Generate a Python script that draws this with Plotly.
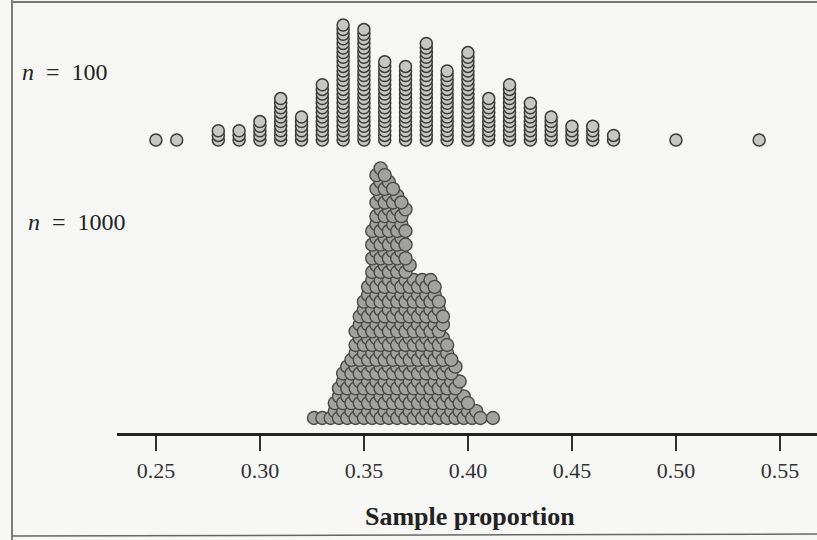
import plotly.graph_objects as go

# ---------------- data ----------------
# n = 100 : sample proportions (multiples of 0.01) and how many samples gave each
top_props = [0.25, 0.26, 0.28, 0.29, 0.30, 0.31, 0.32, 0.33, 0.34, 0.35, 0.36, 0.37,
             0.38, 0.39, 0.40, 0.41, 0.42, 0.43, 0.44, 0.45, 0.46, 0.47, 0.50, 0.54]
top_counts = [1, 1, 3, 3, 5, 10, 6, 13, 26, 25, 18, 17,
              22, 16, 20, 10, 13, 9, 6, 4, 4, 2, 1, 1]

# n = 1000 : sample proportions (grouped to 0.002) and counts
bot_props = [0.326, 0.330, 0.334, 0.336, 0.338, 0.340, 0.342, 0.344, 0.346, 0.348,
             0.350, 0.352, 0.354, 0.356, 0.358, 0.360, 0.362, 0.364, 0.366, 0.368,
             0.370, 0.372, 0.374, 0.376, 0.378, 0.380, 0.382, 0.384, 0.386, 0.388,
             0.390, 0.392, 0.394, 0.396, 0.398, 0.400, 0.402, 0.404, 0.406, 0.412]
bot_counts = [1, 1, 1, 2, 3, 4, 4, 5, 7, 8,
              9, 10, 14, 18, 18, 18, 17, 17, 16, 16,
              15, 11, 10, 10, 10, 10, 10, 10, 9, 8,
              6, 5, 4, 3, 2, 2, 1, 1, 1, 1]

tick_vals = [0.25, 0.30, 0.35, 0.40, 0.45, 0.50, 0.55]
tick_text = ["0.25", "0.30", "0.35", "0.40", "0.45", "0.50", "0.55"]
labels = ["<i>n</i>\u2002=\u2002100", "<i>n</i>\u2002=\u20021000"]
x_title = "Sample proportion"

# ---------------- layout constants ----------------
W, H = 817, 540
ML, MR, MT, MB = 117, 0, 10, 107
PW, PH = W - ML - MR, H - MT - MB
X0, X1 = 0.2313, 0.5678
PX_PER_X = PW / (X1 - X0)          # pixels per unit of x
Y_RANGE = [0, PH]                   # y axis in pixel units

TOP_BASE, TOP_STEP = 293, 4.6       # stacked dotplot for n = 100
BOT_BASE, BOT_GAP = 15, 8.0         # swarm for n = 1000

def px_x(px):
    return (px - ML) / PW

def px_y(py):
    return (H - MB - py) / PH

# stacked columns (n = 100)
tx, ty = [], []
for p, c in zip(top_props, top_counts):
    for k in range(c):
        tx.append(p)
        ty.append(TOP_BASE + k * TOP_STEP)

# swarm stacking (n = 1000): layers placed round-robin, each dot at the lowest free spot
order = []
layer = 0
while any(c > layer for c in bot_counts):
    for p, c in zip(bot_props, bot_counts):
        if c > layer:
            order.append(p)
    layer += 1

placed = []
bx, by = [], []
d2 = BOT_GAP * BOT_GAP
for p in order:
    xp = (p - X0) * PX_PER_X
    near = [(qx, qy) for qx, qy in placed if abs(qx - xp) < BOT_GAP]
    cands = [0.0] + [qy + (d2 - (qx - xp) ** 2) ** 0.5 for qx, qy in near]
    cands.sort()
    yv = cands[-1]
    for cnd in cands:
        if all((qx - xp) ** 2 + (qy - cnd) ** 2 >= d2 - 1e-6 for qx, qy in near):
            yv = cnd
            break
    placed.append((xp, yv))
    bx.append(p)
    by.append(BOT_BASE + yv)

fig = go.Figure()
fig.add_trace(go.Scatter(
    x=tx, y=ty, mode="markers", hoverinfo="x",
    marker=dict(size=12, color="#c6c6c4", line=dict(color="#3a3a3a", width=1.5)),
    showlegend=False))
fig.add_trace(go.Scatter(
    x=bx, y=by, mode="markers", hoverinfo="x",
    marker=dict(size=13, color="#a2a2a0", line=dict(color="#4a4a4a", width=1.4)),
    showlegend=False))

serif = "Liberation Serif"
annotations = [
    dict(text=labels[0], xref="paper", yref="paper", x=px_x(20), y=px_y(72),
         xanchor="left", yanchor="middle", showarrow=False,
         font=dict(family=serif, size=24, color="#222")),
    dict(text=labels[1], xref="paper", yref="paper", x=px_x(26), y=px_y(222),
         xanchor="left", yanchor="middle", showarrow=False,
         font=dict(family=serif, size=24, color="#222")),
    dict(text="<b>" + x_title + "</b>", xref="paper", yref="paper", x=px_x(470), y=px_y(516),
         xanchor="center", yanchor="middle", showarrow=False,
         font=dict(family=serif, size=26, color="#222")),
]

shapes = [
    dict(type="line", xref="paper", yref="paper", x0=px_x(12), x1=px_x(12), y0=px_y(0), y1=px_y(540),
         line=dict(color="#555", width=1.5)),
    dict(type="line", xref="paper", yref="paper", x0=px_x(12), x1=px_x(817), y0=px_y(2), y1=px_y(2),
         line=dict(color="#777", width=2)),
    dict(type="line", xref="paper", yref="paper", x0=px_x(12), x1=px_x(817), y0=px_y(536), y1=px_y(534),
         line=dict(color="#666", width=1.5)),
]

fig.update_layout(
    width=W, height=H,
    margin=dict(l=ML, r=MR, t=MT, b=MB),
    paper_bgcolor="#f7f7f5", plot_bgcolor="#f7f7f5",
    xaxis=dict(range=[X0, X1], tickvals=tick_vals, ticktext=tick_text,
               ticks="outside", ticklen=15, tickwidth=1.6, tickcolor="#333",
               showline=True, linewidth=2.5, linecolor="#222",
               showgrid=False, zeroline=False, ticklabelstandoff=1,
               tickfont=dict(family=serif, size=22, color="#333")),
    yaxis=dict(range=Y_RANGE, visible=False),
    annotations=annotations,
    shapes=shapes,
)

fig.write_html("out.html")
